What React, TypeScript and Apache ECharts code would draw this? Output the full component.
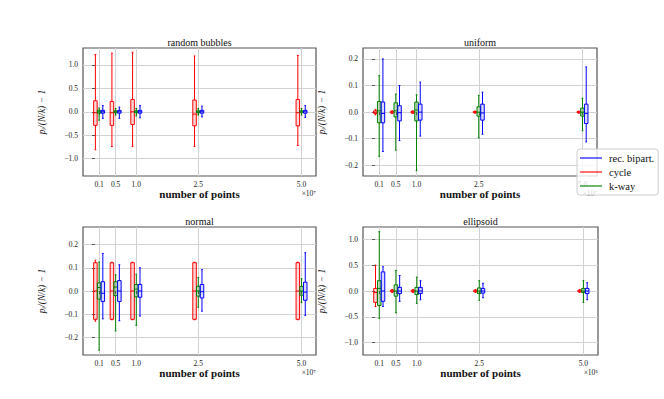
import React, { useEffect, useRef } from "react";
import * as echarts from "echarts";

// ---------- data ----------
const xPositions = [0.1, 0.5, 1.0, 2.5, 5.0];
const xTickLabels = ["0.1", "0.5", "1.0", "2.5", "5.0"];
const panelTitles = ["random bubbles", "uniform", "normal", "ellipsoid"];
const panelExponents = ["×10⁷", "×10⁷", "×10⁷", "×10⁵"];
const methodNames = ["rec. bipart.", "cycle", "k-way"];

const wideTicks = [-1.0, -0.5, 0.0, 0.5, 1.0];
const narrowTicks = [-0.2, -0.1, 0.0, 0.1, 0.2];

// each row: [min, q1, median, q3, max]
const bubblesCycle = [
  [-0.81, -0.29, -0.02, 0.235, 1.22],
  [-0.74, -0.29, -0.02, 0.22, 1.25],
  [-0.74, -0.27, 0.0, 0.26, 1.27],
  [-0.74, -0.3, -0.05, 0.25, 1.19],
  [-0.72, -0.3, -0.02, 0.26, 1.2],
];
const bubblesKway = [
  [-0.18, -0.03, 0.0, 0.03, 0.08],
  [-0.07, -0.02, 0.0, 0.02, 0.07],
  [-0.09, -0.02, 0.0, 0.02, 0.07],
  [-0.07, -0.02, 0.0, 0.02, 0.07],
  [-0.07, -0.02, 0.0, 0.02, 0.07],
];
const bubblesBipart = [
  [-0.14, -0.03, 0.0, 0.03, 0.13],
  [-0.14, -0.03, 0.0, 0.03, 0.1],
  [-0.13, -0.03, 0.0, 0.03, 0.13],
  [-0.11, -0.03, 0.0, 0.03, 0.12],
  [-0.12, -0.03, 0.0, 0.03, 0.13],
];

const uniformCycle = [
  [-0.01, -0.005, 0.0, 0.005, 0.01],
  [-0.005, -0.003, 0.0, 0.003, 0.005],
  [-0.005, -0.003, 0.0, 0.003, 0.005],
  [-0.004, -0.002, 0.0, 0.002, 0.004],
  [-0.004, -0.002, 0.0, 0.002, 0.004],
];
const uniformKway = [
  [-0.166, -0.04, 0.005, 0.04, 0.137],
  [-0.143, -0.018, 0.005, 0.035, 0.068],
  [-0.22, -0.033, 0.008, 0.038, 0.065],
  [-0.097, -0.015, 0.0, 0.02, 0.063],
  [-0.07, -0.015, 0.0, 0.015, 0.052],
];
const uniformBipart = [
  [-0.148, -0.04, -0.005, 0.038, 0.2],
  [-0.107, -0.033, -0.002, 0.024, 0.1],
  [-0.09, -0.03, 0.0, 0.03, 0.113],
  [-0.083, -0.03, -0.003, 0.03, 0.075],
  [-0.112, -0.043, -0.005, 0.03, 0.17],
];

const normalCycle = [
  [-0.13, -0.122, 0.0, 0.122, 0.133],
  [-0.124, -0.122, 0.0, 0.122, 0.124],
  [-0.124, -0.122, 0.0, 0.122, 0.124],
  [-0.124, -0.122, 0.0, 0.122, 0.124],
  [-0.124, -0.122, 0.0, 0.122, 0.124],
];
const normalKway = [
  [-0.255, -0.035, 0.015, 0.035, 0.125],
  [-0.172, -0.02, 0.017, 0.04, 0.07],
  [-0.148, -0.025, 0.008, 0.028, 0.072],
  [-0.07, -0.022, 0.0, 0.02, 0.058],
  [-0.05, -0.018, 0.0, 0.02, 0.053],
];
const normalBipart = [
  [-0.12, -0.045, -0.01, 0.04, 0.162],
  [-0.128, -0.045, 0.0, 0.045, 0.113],
  [-0.108, -0.027, 0.0, 0.028, 0.1],
  [-0.087, -0.03, -0.003, 0.028, 0.092],
  [-0.105, -0.04, -0.005, 0.038, 0.165],
];

const ellipsoidCycle = [
  [-0.3, -0.22, -0.03, 0.05, 0.5],
  [-0.03, -0.015, 0.0, 0.015, 0.03],
  [-0.03, -0.015, 0.0, 0.015, 0.03],
  [-0.03, -0.015, 0.0, 0.015, 0.03],
  [-0.03, -0.015, 0.0, 0.015, 0.03],
];
const ellipsoidKway = [
  [-0.53, -0.28, 0.05, 0.2, 1.15],
  [-0.42, -0.1, 0.0, 0.12, 0.4],
  [-0.24, -0.07, 0.0, 0.07, 0.27],
  [-0.18, -0.05, 0.0, 0.06, 0.2],
  [-0.22, -0.03, 0.0, 0.05, 0.2],
];
const ellipsoidBipart = [
  [-0.3, -0.2, 0.0, 0.37, 0.47],
  [-0.2, -0.05, 0.0, 0.07, 0.3],
  [-0.17, -0.05, 0.0, 0.07, 0.2],
  [-0.13, -0.04, 0.0, 0.05, 0.15],
  [-0.17, -0.05, 0.0, 0.05, 0.16],
];

const panelData = [
  { cycle: bubblesCycle, kway: bubblesKway, bipart: bubblesBipart },
  { cycle: uniformCycle, kway: uniformKway, bipart: uniformBipart },
  { cycle: normalCycle, kway: normalKway, bipart: normalBipart },
  { cycle: ellipsoidCycle, kway: ellipsoidKway, bipart: ellipsoidBipart },
];
const yRanges = [
  [-1.37, 1.36],
  [-0.24, 0.241],
  [-0.276, 0.276],
  [-1.24, 1.24],
];
const yTicks = [wideTicks, narrowTicks, narrowTicks, wideTicks];

// ---------- layout / style ----------
const COLORS: Record<string, string> = {
  "rec. bipart.": "#0000ff",
  cycle: "#ff0000",
  "k-way": "#008000",
};
const FILLS: Record<string, string> = {
  "rec. bipart.": "rgba(0,0,255,0.15)",
  cycle: "rgba(255,0,0,0.15)",
  "k-way": "rgba(0,128,0,0.25)",
};
const OFFSETS: Record<string, number> = { cycle: -0.09, "k-way": 0, "rec. bipart.": 0.09 };
const BOX_W = 0.085;
const SERIF = "'Liberation Serif', 'DejaVu Serif', serif";

const grids = [
  { left: 83, top: 48, width: 233, height: 128 },
  { left: 363, top: 48, width: 234, height: 128 },
  { left: 83, top: 227, width: 233, height: 128 },
  { left: 363, top: 227, width: 235, height: 128 },
];

function fmt(v: number) {
  return v.toFixed(1).replace("-", "−");
}

function makeRender(offset: number, color: string, fill: string) {
  return (params: any, api: any) => {
    const x = api.value(0) + offset;
    const mn = api.coord([x, api.value(1)]);
    const q1 = api.coord([x, api.value(2)]);
    const md = api.coord([x, api.value(3)]);
    const q3 = api.coord([x, api.value(4)]);
    const mx = api.coord([x, api.value(5)]);
    const w = api.size([BOX_W, 0])[0];
    const cx = mn[0];
    const cap = w * 0.5;
    const st = { stroke: color, lineWidth: 1, fill: "none" };
    return {
      type: "group",
      children: [
        { type: "line", shape: { x1: cx, y1: mx[1], x2: cx, y2: q3[1] }, style: st },
        { type: "line", shape: { x1: cx, y1: q1[1], x2: cx, y2: mn[1] }, style: st },
        { type: "line", shape: { x1: cx - cap / 2, y1: mx[1], x2: cx + cap / 2, y2: mx[1] }, style: st },
        { type: "line", shape: { x1: cx - cap / 2, y1: mn[1], x2: cx + cap / 2, y2: mn[1] }, style: st },
        {
          type: "rect",
          shape: { x: cx - w / 2, y: q3[1], width: w, height: Math.max(q1[1] - q3[1], 1) },
          style: { stroke: color, lineWidth: 1, fill },
        },
        { type: "line", shape: { x1: cx - w / 2, y1: md[1], x2: cx + w / 2, y2: md[1] }, style: st },
      ],
    };
  };
}

export default function App() {
  const ref = useRef<HTMLDivElement>(null);
  useEffect(() => {
    document.body.style.margin = "0";
    if (!ref.current) return;
    const chart = echarts.init(ref.current, null, { renderer: "svg" });

    const xAxis = grids.map((g, i) => ({
      type: "value",
      gridIndex: i,
      min: -0.29,
      max: 5.35,
      name: "number of points",
      nameLocation: "middle",
      nameGap: 12,
      nameTextStyle: { fontFamily: SERIF, fontWeight: "bold", fontSize: 11, color: "#111" },
      axisLine: { show: false },
      axisTick: { show: true, length: 3, lineStyle: { color: "#555" }, customValues: xPositions },
      axisLabel: {
        customValues: xPositions,
        margin: 4,
        fontFamily: SERIF,
        fontSize: 7.5,
        color: "#222",
        formatter: (v: number) => xTickLabels[xPositions.indexOf(v)] ?? fmt(v),
      },
      splitLine: { show: true, lineStyle: { color: "#d2d2d2", width: 1 } },
    }));

    const yAxis = grids.map((g, i) => ({
      type: "value",
      gridIndex: i,
      min: yRanges[i][0],
      max: yRanges[i][1],
      name: "pᵢ/(N/k) − 1",
      nameLocation: "middle",
      nameRotate: 90,
      nameGap: 36,
      nameTextStyle: { fontFamily: SERIF, fontStyle: "italic", fontSize: 9.5, color: "#111" },
      axisLine: { show: false },
      axisTick: { show: true, length: 3, lineStyle: { color: "#555" }, customValues: yTicks[i] },
      axisLabel: {
        customValues: yTicks[i],
        margin: 5,
        fontFamily: SERIF,
        fontSize: 7.5,
        color: "#222",
        formatter: (v: number) => fmt(v),
      },
      splitLine: { show: true, lineStyle: { color: "#d2d2d2", width: 1 } },
    }));

    const series: any[] = [];
    panelData.forEach((p, i) => {
      const sets: [string, number[][]][] = [
        ["cycle", p.cycle],
        ["k-way", p.kway],
        ["rec. bipart.", p.bipart],
      ];
      sets.forEach(([name, rows]) => {
        series.push({
          type: "custom",
          name,
          xAxisIndex: i,
          yAxisIndex: i,
          itemStyle: { color: COLORS[name] },
          renderItem: makeRender(OFFSETS[name], COLORS[name], FILLS[name]),
          encode: { x: 0, y: [1, 2, 3, 4, 5] },
          data: rows.map((r, k) => [xPositions[k], ...r]),
          silent: true,
          z: 3,
        });
      });
    });

    const graphic: any[] = [];
    grids.forEach((g, i) => {
      graphic.push({
        type: "text",
        x: g.left + g.width / 2,
        y: g.top - 6,
        style: {
          text: panelTitles[i],
          textAlign: "center",
          textVerticalAlign: "middle",
          font: `10px ${SERIF}`,
          fill: "#111",
        },
      });
      graphic.push({
        type: "text",
        x: g.left + g.width,
        y: g.top + g.height + 17.5,
        style: {
          text: panelExponents[i],
          textAlign: "right",
          textVerticalAlign: "middle",
          font: `7.5px ${SERIF}`,
          fill: "#222",
        },
        z: 1,
      });
    });

    chart.setOption({
      animation: false,
      backgroundColor: "#ffffff",
      grid: grids.map((g) => ({
        ...g,
        show: true,
        borderColor: "#555",
        borderWidth: 1.2,
        backgroundColor: "transparent",
      })),
      xAxis,
      yAxis,
      series,
      graphic,
      legend: {
        data: methodNames,
        orient: "vertical",
        left: 577,
        top: 149,
        icon: "rect",
        itemWidth: 22,
        itemHeight: 1.5,
        itemGap: 2,
        padding: [3, 4, 3, 3],
        itemStyle: { opacity: 0.75 },
        backgroundColor: "rgba(255,255,255,0.8)",
        borderColor: "#cccccc",
        borderWidth: 1,
        borderRadius: 3,
        textStyle: { fontFamily: SERIF, fontSize: 10.5, color: "#111", lineHeight: 12, padding: [0, 0, 0, 2] },
        z: 10,
      },
    });
    return () => chart.dispose();
  }, []);
  return <div ref={ref} style={{ width: 664, height: 399 }} />;
}
